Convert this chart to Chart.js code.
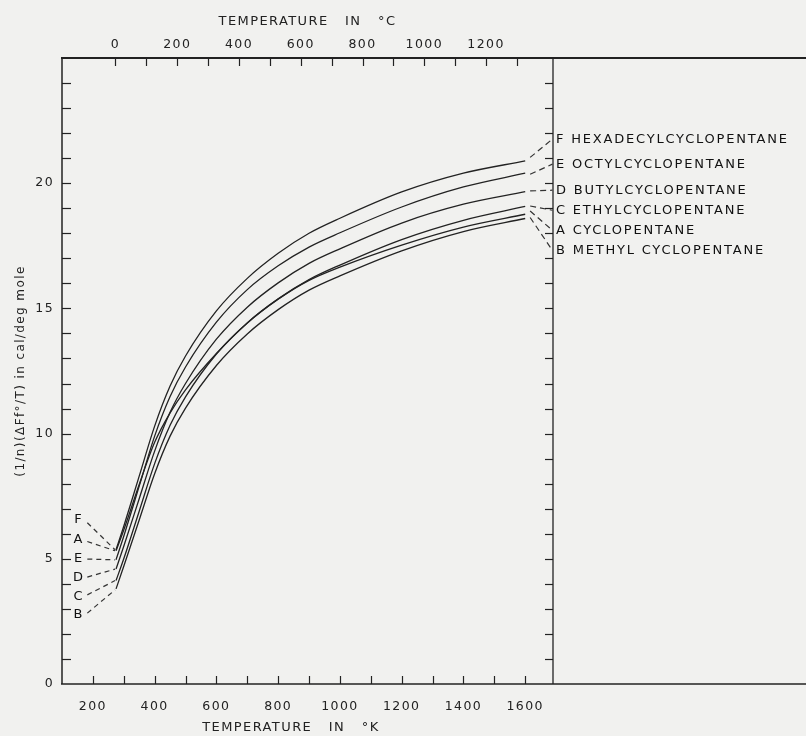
<!DOCTYPE html>
<html lang="en">
<head>
<meta charset="UTF-8">
<title>(1/n)(ΔFf°/T) of alkyl cyclopentanes</title>
<script src="https://cdn.jsdelivr.net/npm/chart.js"></script>
<style>
  html, body { margin: 0; padding: 0; background: #f1f1ef; }
  canvas { display: block; }
</style>
</head>
<body>
<canvas id="chart" width="806" height="736"></canvas>
<script>
const tempK = [275, 300, 350, 400, 450, 500, 600, 700, 800, 900, 1000, 1200, 1400, 1600];

const valuesF = [5.36, 6.3, 8.3, 10.3, 11.9, 13.1, 14.9, 16.2, 17.2, 18.0, 18.6, 19.65, 20.4, 20.89];
const valuesE = [4.96, 5.9, 7.9, 9.9, 11.48, 12.66, 14.45, 15.75, 16.7, 17.45, 18.02, 19.05, 19.85, 20.4];
const valuesD = [4.59, 5.5, 7.4, 9.3, 10.85, 12.0, 13.77, 15.05, 16.02, 16.8, 17.38, 18.41, 19.16, 19.66];
const valuesC = [4.13, 5.0, 6.9, 8.8, 10.33, 11.47, 13.18, 14.42, 15.38, 16.15, 16.73, 17.75, 18.52, 19.07];
const valuesA = [5.32, 6.15, 7.97, 9.65, 10.83, 11.75, 13.2, 14.42, 15.37, 16.12, 16.65, 17.53, 18.25, 18.76];
const valuesB = [3.8, 4.7, 6.55, 8.4, 9.9, 11.02, 12.72, 13.98, 14.95, 15.73, 16.3, 17.3, 18.07, 18.59];

// right hand labels, top to bottom
const rightKeys = ['F', 'E', 'D', 'C', 'A', 'B'];
const rightNames = ['HEXADECYLCYCLOPENTANE', 'OCTYLCYCLOPENTANE', 'BUTYLCYCLOPENTANE',
  'ETHYLCYCLOPENTANE', 'CYCLOPENTANE', 'METHYL CYCLOPENTANE'];
const rightLabelY = [21.76, 20.76, 19.72, 18.92, 18.12, 17.32];
const rightLeaderStartY = [21.03, 20.36, 19.69, 19.09, 18.89, 18.63];
const rightLeaderK = [1616, 1688];

// left hand letters, top to bottom
const leftKeys = ['F', 'A', 'E', 'D', 'C', 'B'];
const leftLabelY = [6.56, 5.76, 4.99, 4.23, 3.49, 2.76];
const leftLeaderStartY = [6.44, 5.69, 4.99, 4.27, 3.56, 2.83];
const leftLeaderEndY = [5.36, 5.32, 4.96, 4.59, 4.13, 3.76];
const leftLeaderK = [182, 272];
const leftLabelK = 152;

// axis ticks
const kelvinTicks = [200, 300, 400, 500, 600, 700, 800, 900, 1000, 1100, 1200, 1300, 1400, 1500, 1600];
const celsiusTicks = [0, 100, 200, 300, 400, 500, 600, 700, 800, 900, 1000, 1100, 1200, 1300];
const yTicks = [0, 1, 2, 3, 4, 5, 6, 7, 8, 9, 10, 11, 12, 13, 14, 15, 16, 17, 18, 19, 20, 21, 22, 23, 24];

const xMin = 100, xMax = 1690;
const C0 = 273.15;
const ink = '#222';
const paper = '#f1f1ef';
const fontFamily = '"DejaVu Sans", sans-serif';

const curves = { F: valuesF, E: valuesE, D: valuesD, C: valuesC, A: valuesA, B: valuesB };

const datasets = [];
Object.keys(curves).forEach((k) => {
  datasets.push({
    label: k,
    data: tempK.map((t, i) => ({ x: t, y: curves[k][i] })),
    borderColor: ink,
    borderWidth: 1.3,
    pointRadius: 0,
    cubicInterpolationMode: 'monotone',
    fill: false
  });
});
rightKeys.forEach((k, i) => {
  datasets.push({
    label: 'right ' + k,
    data: [{ x: rightLeaderK[0], y: rightLeaderStartY[i] }, { x: rightLeaderK[1], y: rightLabelY[i] }],
    borderColor: '#333',
    borderWidth: 1.2,
    borderDash: [6, 4],
    pointRadius: 0
  });
});
leftKeys.forEach((k, i) => {
  datasets.push({
    label: 'left ' + k,
    data: [{ x: leftLeaderK[0], y: leftLeaderStartY[i] }, { x: leftLeaderK[1], y: leftLeaderEndY[i] }],
    borderColor: '#333',
    borderWidth: 1.2,
    borderDash: [5, 4],
    pointRadius: 0
  });
});

const line = (ctx, x1, y1, x2, y2) => {
  ctx.beginPath();
  ctx.moveTo(x1, y1);
  ctx.lineTo(x2, y2);
  ctx.stroke();
};

const paperPlugin = {
  id: 'paper',
  beforeDraw(chart) {
    const { ctx } = chart;
    ctx.save();
    ctx.fillStyle = paper;
    ctx.fillRect(0, 0, chart.width, chart.height);
    ctx.restore();
    ctx.letterSpacing = '1.4px';
  },
  afterDraw(chart) {
    const { ctx, chartArea } = chart;
    const { left, right, top, bottom } = chartArea;
    const x = chart.scales.x, x2 = chart.scales.x2, y = chart.scales.y;
    ctx.save();
    ctx.strokeStyle = ink;

    // inward tick marks
    ctx.lineWidth = 1.2;
    x.ticks.forEach((t) => {
      const px = Math.round(x.getPixelForValue(t.value)) + 0.5;
      line(ctx, px, bottom, px, bottom - 8);
    });
    x2.ticks.forEach((t) => {
      const px = Math.round(x2.getPixelForValue(t.value)) + 0.5;
      line(ctx, px, top, px, top + 8);
    });
    y.ticks.forEach((t) => {
      if (t.value === 0) return;
      const py = Math.round(y.getPixelForValue(t.value)) + 0.5;
      line(ctx, left, py, left + 9, py);
      line(ctx, right, py, right - 8, py);
    });

    // frame
    ctx.lineWidth = 2.2;
    line(ctx, left - 1, top, chart.width, top);
    ctx.lineWidth = 1.6;
    line(ctx, left - 1, bottom, chart.width, bottom);
    ctx.lineWidth = 1.5;
    line(ctx, left, top, left, bottom);
    ctx.lineWidth = 1.3;
    line(ctx, right, top, right, bottom);

    // labels
    ctx.fillStyle = '#111';
    ctx.textBaseline = 'middle';
    ctx.font = '13px ' + fontFamily;
    ctx.letterSpacing = '1.8px';
    ctx.textAlign = 'left';
    rightKeys.forEach((k, i) => {
      ctx.fillText(k + ' ' + rightNames[i], right + 3, y.getPixelForValue(rightLabelY[i]));
    });
    ctx.textAlign = 'center';
    ctx.letterSpacing = '0px';
    leftKeys.forEach((k, i) => {
      ctx.fillText(k, x.getPixelForValue(leftLabelK), y.getPixelForValue(leftLabelY[i]));
    });
    ctx.restore();
  }
};

const tickFont = { family: fontFamily, size: 12.5 };
const titleFont = { family: fontFamily, size: 13 };

new Chart(document.getElementById('chart'), {
  type: 'line',
  data: { datasets },
  plugins: [paperPlugin],
  options: {
    responsive: false,
    animation: false,
    events: [],
    layout: { padding: { left: 0, top: 0, bottom: 0, right: 253 } },
    plugins: { legend: { display: false }, tooltip: { enabled: false } },
    scales: {
      x: {
        type: 'linear',
        position: 'bottom',
        min: xMin,
        max: xMax,
        afterBuildTicks: (s) => { s.ticks = kelvinTicks.map((v) => ({ value: v })); },
        afterFit: (s) => { s.height = 52; },
        grid: { display: false, drawTicks: false },
        border: { display: false },
        ticks: {
          padding: 15, color: ink, font: tickFont, maxRotation: 0, autoSkip: false,
          callback: (v) => (v % 200 === 0 ? String(v) : '')
        },
        title: {
          display: true, text: 'TEMPERATURE   IN   °K      ', color: ink, font: titleFont,
          padding: { top: 0, bottom: 1 }
        }
      },
      x2: {
        type: 'linear',
        position: 'top',
        min: xMin - C0,
        max: xMax - C0,
        afterBuildTicks: (s) => { s.ticks = celsiusTicks.map((v) => ({ value: v })); },
        afterFit: (s) => { s.height = 58; },
        grid: { display: false, drawTicks: false },
        border: { display: false },
        ticks: {
          padding: 6, color: ink, font: tickFont, maxRotation: 0, autoSkip: false,
          callback: (v) => (v % 200 === 0 && v <= 1200 ? String(v) : '')
        },
        title: {
          display: true, text: 'TEMPERATURE   IN   °C', color: ink, font: titleFont,
          padding: { top: 14, bottom: 0 }
        }
      },
      y: {
        type: 'linear',
        min: 0,
        max: 25,
        afterBuildTicks: (s) => { s.ticks = yTicks.map((v) => ({ value: v })); },
        afterFit: (s) => { s.width = 62; },
        grid: { display: false, drawTicks: false },
        border: { display: false },
        ticks: {
          padding: 8, color: ink, font: tickFont, autoSkip: false,
          callback: (v) => (v % 5 === 0 ? String(v) : '')
        },
        title: {
          display: true, text: '(1/n)(ΔFf°/T) in cal/deg mole', color: ink,
          font: { family: fontFamily, size: 12 },
          padding: { top: 14, bottom: 0 }
        }
      }
    }
  }
});
</script>
</body>
</html>
